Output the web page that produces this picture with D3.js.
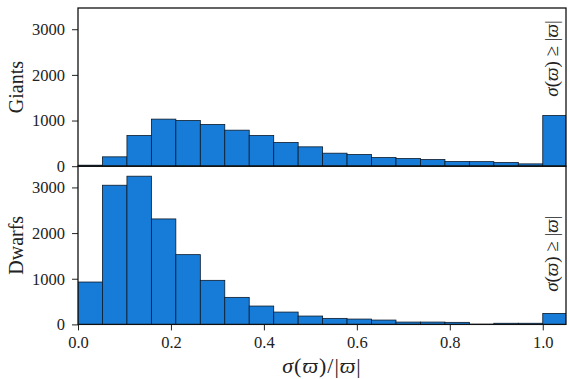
<!DOCTYPE html>
<html>
<head>
<meta charset="utf-8">
<script src="https://cdn.jsdelivr.net/npm/d3@7"></script>
<style>
  body { margin: 0; background: #fff; }
  text { font-family: "Liberation Serif", "DejaVu Serif", serif; fill: #222; }
</style>
</head>
<body>
<svg id="chart" width="570" height="379"></svg>
<script>
// histogram bins: 19 bins of width 1/19 from 0 to 1, plus overflow bin (>= 1)
var binStart = [0, 0.0526, 0.1053, 0.1579, 0.2105, 0.2632, 0.3158, 0.3684, 0.4211, 0.4737,
                0.5263, 0.5789, 0.6316, 0.6842, 0.7368, 0.7895, 0.8421, 0.8947, 0.9474, 1.0];
var binEnd   = [0.0526, 0.1053, 0.1579, 0.2105, 0.2632, 0.3158, 0.3684, 0.4211, 0.4737, 0.5263,
                0.5789, 0.6316, 0.6842, 0.7368, 0.7895, 0.8421, 0.8947, 0.9474, 1.0, 1.05];

var giants = [22, 205, 672, 1031, 1001, 914, 789, 672, 519, 424,
              285, 256, 190, 168, 146, 102, 100, 80, 51, 1111];
var dwarfs = [928, 3048, 3246, 2310, 1528, 965, 592, 402, 270, 183,
              132, 117, 95, 51, 51, 45, 4, 25, 25, 241];

var xTicks = [0, 0.2, 0.4, 0.6, 0.8, 1.0];
var yTicks = [0, 1000, 2000, 3000];
var panels = [
  { name: "Giants", values: giants, annotY: 2360 },
  { name: "Dwarfs", values: dwarfs, annotY: 1550 }
];

var svg = d3.select("#chart");
var mLeft = 78, mRight = 566, mTop = 8, panelH = 158.2;
var barFill = "#167cd8";

var x = d3.scaleLinear().domain([0, 1.05]).range([mLeft, mRight]);

function mathLabel(sel, sep) {
  sel.append("tspan").style("font-style", "italic").text("σ");
  sel.append("tspan").text("(");
  sel.append("tspan").style("font-style", "italic").text("ϖ");
  sel.append("tspan").text(")" + sep + "|");
  sel.append("tspan").style("font-style", "italic").text("ϖ");
  sel.append("tspan").text("|");
}

panels.forEach(function(p, i) {
  var y0 = mTop + i * panelH;
  var y = d3.scaleLinear().domain([0, 3465]).range([y0 + panelH, y0]);
  var g = svg.append("g");

  var clipId = "clip" + i;
  svg.append("clipPath").attr("id", clipId)
    .append("rect").attr("x", mLeft).attr("y", y0).attr("width", mRight - mLeft).attr("height", panelH);

  g.append("g").attr("clip-path", "url(#" + clipId + ")")
    .selectAll("rect").data(p.values).enter().append("rect")
    .attr("x", function(d, k) { return x(binStart[k]); })
    .attr("width", function(d, k) { return x(binEnd[k]) - x(binStart[k]); })
    .attr("y", function(d) { return y(d); })
    .attr("height", function(d) { return y(0) - y(d); })
    .attr("fill", barFill)
    .attr("stroke", "#0b1a2a")
    .attr("stroke-width", 0.8);

  // y axis
  var ya = g.append("g").attr("transform", "translate(" + mLeft + ",0)")
    .call(d3.axisLeft(y).tickValues(yTicks).tickSize(6).tickPadding(7).tickFormat(d3.format("d")));
  ya.select(".domain").remove();
  ya.selectAll("line").attr("stroke", "#222").attr("stroke-width", 1);
  ya.selectAll("text").style("font-size", "16.5px");

  // x axis (labels only on the bottom panel)
  var xa = g.append("g").attr("transform", "translate(0," + (y0 + panelH) + ")")
    .call(d3.axisBottom(x).tickValues(xTicks).tickSize(i === 1 ? 6 : 0).tickPadding(6).tickFormat(d3.format(".1f")));
  xa.select(".domain").remove();
  xa.selectAll("line").attr("stroke", "#222").attr("stroke-width", 1);
  xa.selectAll("text").style("font-size", "16.5px");
  if (i === 0) xa.selectAll("text").remove();

  // frame
  g.append("rect")
    .attr("x", mLeft).attr("y", y0).attr("width", mRight - mLeft).attr("height", panelH)
    .attr("fill", "none").attr("stroke", "#111").attr("stroke-width", 1.3);

  // panel label
  g.append("text")
    .attr("transform", "translate(16," + (y0 + panelH / 2) + ") rotate(-90)")
    .attr("text-anchor", "middle").attr("dominant-baseline", "central")
    .style("font-size", "20px")
    .text(p.name);

  // overflow annotation
  var t = g.append("text")
    .attr("transform", "translate(" + (x(1.0) + 8) + "," + y(p.annotY) + ") rotate(-90)")
    .attr("text-anchor", "middle").attr("dominant-baseline", "central")
    .style("font-size", "19px");
  mathLabel(t, " ≥ ");
});

// x label
var xl = svg.append("text")
  .attr("x", (mLeft + mRight) / 2).attr("y", 373)
  .attr("text-anchor", "middle")
  .style("font-size", "22px")
  .style("letter-spacing", "1px");
mathLabel(xl, "/");
</script>
</body>
</html>
